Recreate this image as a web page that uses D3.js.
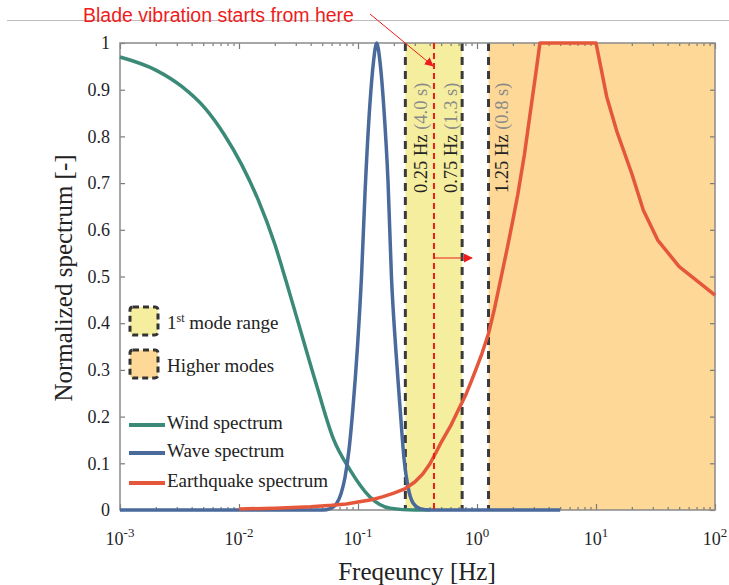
<!DOCTYPE html>
<html>
<head>
<meta charset="utf-8">
<script src="https://cdn.jsdelivr.net/npm/d3@7"></script>
<style>
  body { margin: 0; background: #fff; }
  svg { display: block; }
  text { font-family: "Liberation Serif", "Times New Roman", serif; }
</style>
</head>
<body>
<svg id="chart" width="729" height="585"></svg>
<script>
// ---------- data ----------
const windFreq = [0.001, 0.002, 0.0033, 0.0052, 0.0076, 0.0105, 0.0145, 0.02, 0.025, 0.0305, 0.045, 0.062, 0.0857, 0.126, 0.186, 0.3, 0.4];
const windVal  = [0.970, 0.942, 0.907, 0.860, 0.802, 0.740, 0.664, 0.569, 0.488, 0.413, 0.266, 0.153, 0.086, 0.028, 0.004, 0.0, 0.0];

const waveFreq = [0.001, 0.0508, 0.0582, 0.0653, 0.072, 0.0778, 0.0841, 0.0908, 0.099, 0.107, 0.1146, 0.126, 0.135, 0.1436, 0.153, 0.165, 0.179, 0.191, 0.207, 0.2255, 0.2436, 0.263, 0.29, 0.332, 0.403, 5];
const waveVal  = [0, 0, 0.003, 0.012, 0.035, 0.07, 0.13, 0.22, 0.35, 0.5, 0.68, 0.87, 0.96, 1.0, 0.96, 0.86, 0.70, 0.5, 0.35, 0.22, 0.11, 0.05, 0.015, 0.003, 0, 0];

const quakeFreq = [0.01, 0.02, 0.04, 0.06, 0.08, 0.1, 0.13, 0.16, 0.2, 0.25, 0.3, 0.35, 0.4, 0.45, 0.5, 0.6, 0.7, 0.8, 0.9, 1.0, 1.1, 1.25, 1.4, 1.6, 1.8, 2.0, 2.2, 2.5, 2.8, 3.1, 3.38, 10, 12.3, 15, 20, 25, 33, 50, 100];
const quakeVal  = [0.002, 0.004, 0.007, 0.010, 0.013, 0.017, 0.022, 0.028, 0.036, 0.046, 0.060, 0.077, 0.098, 0.122, 0.145, 0.180, 0.215, 0.245, 0.277, 0.307, 0.335, 0.378, 0.430, 0.500, 0.562, 0.620, 0.675, 0.760, 0.850, 0.930, 1.0, 1.0, 0.885, 0.810, 0.720, 0.642, 0.578, 0.521, 0.460];

const modeBandFreq   = [0.25, 0.75];   // 1st mode range
const higherBandFreq = [1.25, 100];    // higher modes
const markerFreq     = [0.25, 0.75, 1.25];
const markerHz       = ["0.25 Hz", "0.75 Hz", "1.25 Hz"];
const markerPeriod   = ["(4.0 s)", "(1.3 s)", "(0.8 s)"];
const bladeStartFreq = 0.435;

const xTickExps = [-3, -2, -1, 0, 1, 2];
const yTicks = [0, 0.1, 0.2, 0.3, 0.4, 0.5, 0.6, 0.7, 0.8, 0.9, 1];

const seriesNames  = ["Wind spectrum", "Wave spectrum", "Earthquake spectrum"];
const seriesColors = ["#3b8a78", "#4a6a9c", "#e5573b"];
const bandColors   = ["#f6ee9f", "#fdd897"];

// ---------- setup ----------
const svg = d3.select("#chart");
const L = 120, R = 715, T = 43, B = 510;
const x = d3.scaleLog().domain([1e-3, 1e2]).range([L, R]);
const y = d3.scaleLinear().domain([0, 1]).range([B, T]);

// top separator line
svg.append("line").attr("x1", 7).attr("x2", 729).attr("y1", 20.5).attr("y2", 20.5)
  .attr("stroke", "#bdbdbd").attr("stroke-width", 1);

// bands
svg.append("rect").attr("x", x(modeBandFreq[0])).attr("y", T)
  .attr("width", x(modeBandFreq[1]) - x(modeBandFreq[0])).attr("height", B - T)
  .attr("fill", bandColors[0]);
svg.append("rect").attr("x", x(higherBandFreq[0])).attr("y", T)
  .attr("width", x(higherBandFreq[1]) - x(higherBandFreq[0])).attr("height", B - T)
  .attr("fill", bandColors[1]);

// dashed markers
svg.selectAll(".marker").data(markerFreq).enter().append("line")
  .attr("x1", d => x(d)).attr("x2", d => x(d)).attr("y1", T).attr("y2", B)
  .attr("stroke", "#3a3a3a").attr("stroke-width", 3).attr("stroke-dasharray", "8,6");

// marker labels (rotated); baseline offsets from each marker line
const labelOffset = [22, -5, 19];
markerFreq.forEach((f, i) => {
  const tx = x(f) + labelOffset[i], ty = 193;
  const t = svg.append("text").attr("transform", `translate(${tx},${ty}) rotate(-90)`)
    .attr("font-size", 18.5).attr("fill", "#222");
  t.append("tspan").text(markerHz[i] + " ");
  t.append("tspan").attr("fill", "#8a8a8a").text(markerPeriod[i]);
});

// axes ticks (inside)
const minorTicks = [];
for (let e = -3; e < 2; e++) for (let m = 2; m <= 9; m++) minorTicks.push(m * Math.pow(10, e));
const majorTicks = xTickExps.map(e => Math.pow(10, e));

const tickColor = "#7a7a7a";
function styleAxis(g) {
  g.select(".domain").remove();
  g.selectAll(".tick line").attr("stroke", tickColor).attr("stroke-width", 1.2);
}
svg.append("g").attr("transform", `translate(0,${B})`)
  .call(d3.axisBottom(x).tickValues(minorTicks).tickSize(-3).tickFormat("")).call(styleAxis);
svg.append("g").attr("transform", `translate(0,${B})`)
  .call(d3.axisBottom(x).tickValues(majorTicks).tickSize(-6).tickFormat("")).call(styleAxis);
svg.append("g").attr("transform", `translate(0,${T})`)
  .call(d3.axisTop(x).tickValues(minorTicks).tickSize(-3).tickFormat("")).call(styleAxis);
svg.append("g").attr("transform", `translate(0,${T})`)
  .call(d3.axisTop(x).tickValues(majorTicks).tickSize(-6).tickFormat("")).call(styleAxis);

const yAxisL = svg.append("g").attr("transform", `translate(${L},0)`)
  .call(d3.axisLeft(y).tickValues(yTicks).tickSize(-5).tickPadding(10).tickFormat(d => String(d)));
yAxisL.call(styleAxis);
yAxisL.selectAll(".tick text").attr("font-size", 18).attr("fill", "#1f1f2a")
  .attr("font-family", "'Liberation Serif', serif");
svg.append("g").attr("transform", `translate(${R},0)`)
  .call(d3.axisRight(y).tickValues(yTicks).tickSize(-5).tickFormat("")).call(styleAxis);

// frame
svg.append("rect").attr("x", L).attr("y", T).attr("width", R - L).attr("height", B - T)
  .attr("fill", "none").attr("stroke", "#8a8a8a").attr("stroke-width", 1.5);

// x tick labels with superscripts
xTickExps.forEach(e => {
  const t = svg.append("text").attr("x", x(Math.pow(10, e))).attr("y", 545)
    .attr("text-anchor", "middle").attr("font-size", 18).attr("fill", "#1f1f2a");
  t.append("tspan").text("10");
  t.append("tspan").attr("dy", -8).attr("font-size", 13).text(String(e));
});

// series
const line = d3.line().x(d => x(d[0])).y(d => y(d[1]));
const windData  = windFreq.map((f, i) => [f, windVal[i]]);
const waveData  = waveFreq.map((f, i) => [f, waveVal[i]]);
const quakeData = quakeFreq.map((f, i) => [f, quakeVal[i]]);

svg.append("path").datum(windData).attr("d", line.curve(d3.curveMonotoneX))
  .attr("fill", "none").attr("stroke", seriesColors[0]).attr("stroke-width", 3.5);
svg.append("path").datum(waveData).attr("d", line.curve(d3.curveMonotoneX))
  .attr("fill", "none").attr("stroke", seriesColors[1]).attr("stroke-width", 3.5);
svg.append("path").datum(quakeData).attr("d", line.curve(d3.curveLinear))
  .attr("fill", "none").attr("stroke", seriesColors[2]).attr("stroke-width", 3.5)
  .attr("stroke-linejoin", "round");

// blade vibration start marker
svg.append("defs").append("marker").attr("id", "arr").attr("viewBox", "0 0 10 10")
  .attr("refX", 9).attr("refY", 5).attr("markerWidth", 9).attr("markerHeight", 9)
  .attr("markerUnits", "userSpaceOnUse").attr("orient", "auto")
  .append("path").attr("d", "M0,0 L10,5 L0,10 z").attr("fill", "#ee1c1c");
const xb = x(bladeStartFreq);
svg.append("line").attr("x1", xb).attr("x2", xb).attr("y1", T).attr("y2", B + 2)
  .attr("stroke", "#ee1c1c").attr("stroke-width", 2).attr("stroke-dasharray", "6,4");
svg.append("line").attr("x1", 370).attr("y1", 14).attr("x2", xb - 1).attr("y2", 66)
  .attr("stroke", "#ee1c1c").attr("stroke-width", 1).attr("marker-end", "url(#arr)");
svg.append("line").attr("x1", xb).attr("y1", 258).attr("x2", xb + 38).attr("y2", 258)
  .attr("stroke", "#ee1c1c").attr("stroke-width", 1.2).attr("marker-end", "url(#arr)");

svg.append("text").attr("x", 83).attr("y", 22).attr("font-size", 19.5)
  .attr("fill", "#ee1c1c")
  .style("font-family", "'Liberation Sans', Arial, sans-serif")
  .text("Blade vibration starts from here");

// legend: bands
const bandLegendY = [307, 350];
bandLegendY.forEach((by, i) => {
  svg.append("rect").attr("x", 130).attr("y", by).attr("width", 28).attr("height", 28)
    .attr("rx", 3).attr("fill", bandColors[i]).attr("stroke", "#333")
    .attr("stroke-width", 3).attr("stroke-dasharray", "6,4");
});
const t1 = svg.append("text").attr("x", 167).attr("y", 329).attr("font-size", 19).attr("fill", "#222");
t1.append("tspan").text("1");
t1.append("tspan").attr("dy", -7).attr("font-size", 12).text("st");
t1.append("tspan").attr("dy", 7).text(" mode range");
svg.append("text").attr("x", 167).attr("y", 372).attr("font-size", 19).attr("fill", "#222")
  .text("Higher modes");

// legend: lines
const legY = [425, 453, 483];
seriesNames.forEach((n, i) => {
  svg.append("line").attr("x1", 129).attr("x2", 165).attr("y1", legY[i]).attr("y2", legY[i])
    .attr("stroke", seriesColors[i]).attr("stroke-width", 4);
  svg.append("text").attr("x", 167).attr("y", legY[i] + 4).attr("font-size", 19)
    .attr("fill", "#222").text(n);
});

// axis titles
svg.append("text").attr("transform", "translate(72,278) rotate(-90)")
  .attr("text-anchor", "middle").attr("font-size", 25).attr("fill", "#222")
  .text("Normalized spectrum [-]");
svg.append("text").attr("x", 417).attr("y", 580).attr("text-anchor", "middle")
  .attr("font-size", 25).attr("fill", "#222").text("Freqeuncy [Hz]");
</script>
</body>
</html>
